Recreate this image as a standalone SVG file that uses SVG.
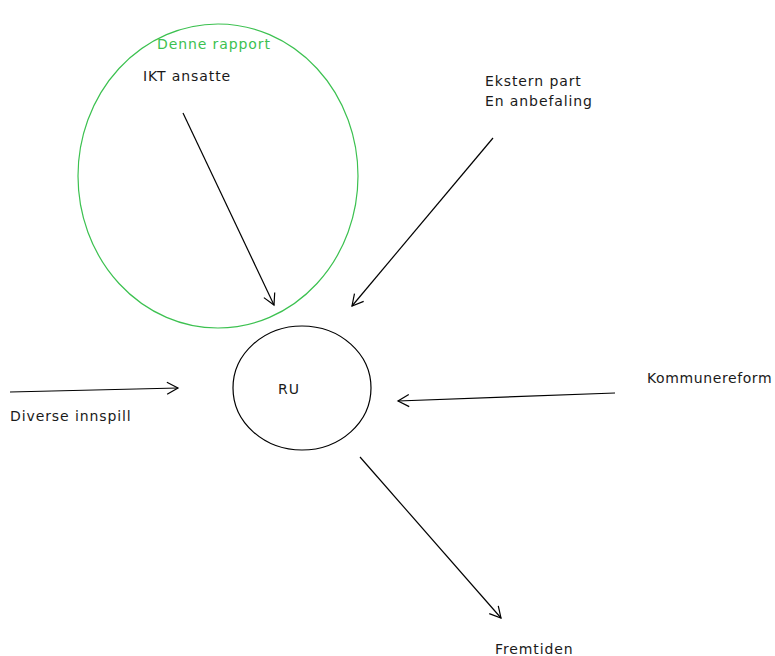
<svg xmlns="http://www.w3.org/2000/svg" width="775" height="656" viewBox="0 0 775 656">
<defs>
<style>
text{font-family:"DejaVu Sans","Noto Sans",sans-serif;font-size:14px;letter-spacing:0.9px;fill:#1a1a1a}
.c{fill:none;stroke:#000;stroke-width:1.2}
</style>
<marker id="a" viewBox="-12 -7 14 14" markerWidth="14" markerHeight="14" refX="0" refY="0" orient="auto" markerUnits="userSpaceOnUse">
<path d="M-11,-6 L0,0 L-11,6" fill="none" stroke="#000" stroke-width="1.2"/>
</marker>
</defs>
<rect width="775" height="656" fill="#fff"/>
<g id="rapport">
<ellipse cx="218" cy="176" rx="140" ry="152" fill="none" stroke="#3cc150" stroke-width="1.2"/>
<text x="157" y="49" style="fill:#3cc150">Denne rapport</text>
</g>
<g id="ikt"><text x="143" y="81">IKT ansatte</text></g>
<g id="ekstern"><text x="485" y="86">Ekstern part</text><text x="485" y="106">En anbefaling</text></g>
<g id="ru">
<ellipse cx="302" cy="388" rx="69" ry="62" fill="none" stroke="#000" stroke-width="1.2"/>
<text x="278" y="394">RU</text>
</g>
<g id="diverse"><text x="10" y="421">Diverse innspill</text></g>
<g id="kommune"><text x="647" y="383" style="letter-spacing:0.6px">Kommunereform</text></g>
<g id="fremtiden"><text x="495" y="654">Fremtiden</text></g>
<g id="connectors">
<line class="c" x1="183" y1="113" x2="274" y2="305" marker-end="url(#a)"/>
<line class="c" x1="493" y1="138" x2="352" y2="306" marker-end="url(#a)"/>
<line class="c" x1="10" y1="392" x2="178" y2="388" marker-end="url(#a)"/>
<line class="c" x1="615" y1="393" x2="398" y2="401" marker-end="url(#a)"/>
<line class="c" x1="360" y1="457" x2="501" y2="618" marker-end="url(#a)"/>
</g>
</svg>
